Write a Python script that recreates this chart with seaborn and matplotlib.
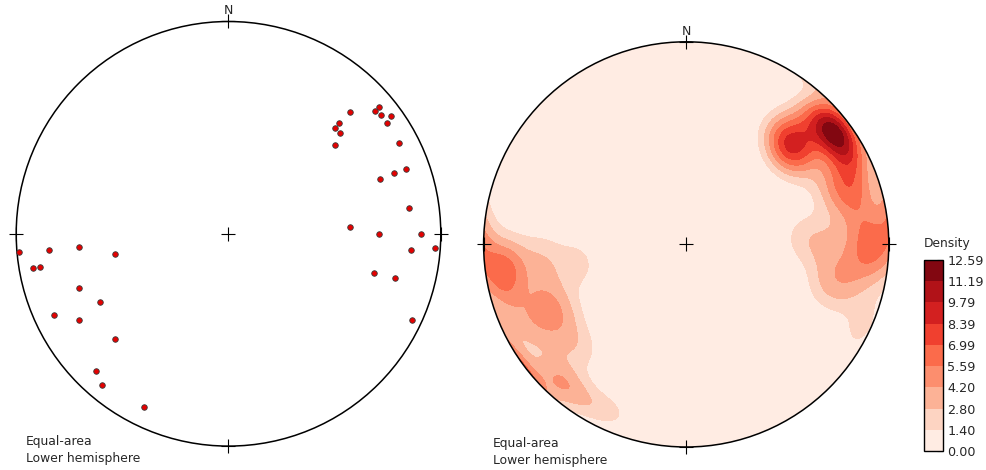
import numpy as np
import matplotlib
matplotlib.use("Agg")
import matplotlib.pyplot as plt
from matplotlib.patches import Circle
import seaborn as sns

# Poles to planes (trend / plunge, degrees)
pole_trend = [50, 50, 52, 54, 45, 45, 45, 55, 48, 50, 62, 70, 70, 70, 82, 87, 90, 90, 95, 94,
              105, 105, 115, 265, 265, 265, 260, 260, 260, 250, 242, 245, 240, 227, 224, 220, 206]
pole_plunge = [8, 11, 10, 6, 20, 27, 30, 10, 30, 35, 10, 12, 18, 25, 15, 42, 30, 10, 15, 3,
               30, 20, 5, 1, 16, 30, 45, 7, 11, 26, 32, 10, 20, 28, 11, 8, 10]

# Contour levels of the pole density (colorbar ticks)
density_levels = [0.00, 1.40, 2.80, 4.20, 5.59, 6.99, 8.39, 9.79, 11.19, 12.59]

projection_label = "Equal-area\nLower hemisphere"

# Exponential Kamb smoothing settings
kamb_sigma = 1.42
effective_n = 61.0

sns.set_theme(style="white")
plt.rcParams["font.family"] = ["DejaVu Sans"]

W, H = 987, 470
fig = plt.figure(figsize=(W / 100, H / 100), dpi=100)


def px_axes(cx, cy, r):
    return fig.add_axes([(cx - r) / W, 1 - (cy + r) / H, 2 * r / W, 2 * r / H])


def equal_area(trend, plunge):
    t = np.radians(np.asarray(trend, float))
    p = np.radians(np.asarray(plunge, float))
    r = np.sqrt(2) * np.sin((np.pi / 2 - p) / 2)
    return r * np.sin(t), r * np.cos(t)


def setup_net(ax):
    ax.set_xlim(-1, 1)
    ax.set_ylim(-1, 1)
    ax.set_aspect("equal")
    ax.axis("off")
    rim = Circle((0, 0), 1, facecolor="none", edgecolor="black", lw=1.1, zorder=5, clip_on=False)
    ax.add_patch(rim)
    ax.plot([0, 1, -1, 0, 0], [0, 0, 0, 1, -1], ls="none", marker="+", ms=10.5,
            mew=0.8, color="black", zorder=6, clip_on=False)
    ax.annotate("N", (0, 1), xytext=(0, 3), textcoords="offset points",
                ha="center", va="bottom", fontsize=9)
    return rim


# Left: poles
ax1 = px_axes(228.5, 233.8, 212.3)
setup_net(ax1)
px, py = equal_area(pole_trend, pole_plunge)
sns.scatterplot(x=px, y=py, ax=ax1, color="#e50000", edgecolor="#3a3a3a",
                linewidth=0.6, s=16, zorder=7, clip_on=False, legend=False)
ax1.set_xlim(-1, 1)
ax1.set_ylim(-1, 1)
fig.text(26 / W, 1 - 450 / H, projection_label, ha="left", va="center",
         fontsize=8.9, linespacing=1.45)

# Right: exponential Kamb density of the poles (axial data)
ax2 = px_axes(686.2, 244.4, 202.6)
rim2 = setup_net(ax2)

g = np.linspace(-1.06, 1.06, 260)
gx, gy = np.meshgrid(g, g)
gr = np.hypot(gx, gy)
theta = 2 * np.arcsin(np.clip(gr / np.sqrt(2), 0, 1))
az = np.arctan2(gx, gy)
grid_vec = np.stack([np.sin(theta) * np.sin(az),
                     np.sin(theta) * np.cos(az),
                     -np.cos(theta)], axis=-1)
t = np.radians(pole_trend)
p = np.radians(pole_plunge)
data_vec = np.stack([np.cos(p) * np.sin(t), np.cos(p) * np.cos(t), -np.sin(p)], axis=-1)

weight = effective_n / len(pole_trend)
f = 2 * (1.0 + effective_n / kamb_sigma ** 2)
units = np.sqrt(effective_n * (f / 2.0 - 1) / f ** 2)
cos_dist = np.abs(grid_vec @ data_vec.T)
dens = (weight * np.exp(f * (cos_dist - 1)).sum(axis=-1) - 0.5) / units
dens = np.clip(dens, 0, density_levels[-1])

cs = ax2.contourf(gx, gy, dens, levels=density_levels, cmap="Reds", zorder=1)
cs.set_clip_path(rim2)

fig.text(493 / W, 1 - 452 / H, projection_label, ha="left", va="center",
         fontsize=8.9, linespacing=1.45)

cax = fig.add_axes([924 / W, 1 - 451 / H, 19 / W, 191 / H])
cb = fig.colorbar(cs, cax=cax, ticks=density_levels, format="%.2f")
cb.outline.set_linewidth(1.0)
cb.outline.set_edgecolor("black")
cax.tick_params(direction="in", length=4, width=0.8, color="#333333",
                labelsize=9.2, pad=3)
fig.text(924 / W, 1 - 243 / H, "Density", ha="left", va="center", fontsize=8.8)

fig.savefig("out.png", dpi=100, facecolor="white")
